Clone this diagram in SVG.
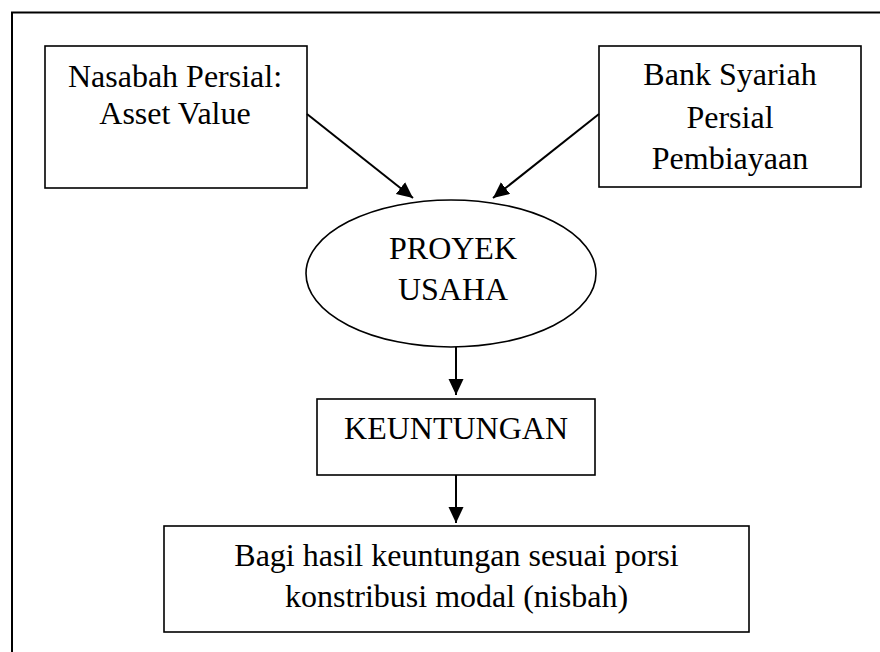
<svg xmlns="http://www.w3.org/2000/svg" width="880" height="652" viewBox="0 0 880 652">
<defs>
<style>
.box{fill:#fff;stroke:#000;stroke-width:1.6}
.t{font-family:"Liberation Serif","Times New Roman",serif;font-size:32px;fill:#000;text-anchor:middle}
.c{stroke:#000;stroke-width:2;fill:none}
</style>
<marker id="ah" markerUnits="userSpaceOnUse" markerWidth="18" markerHeight="16" refX="16" refY="7.5" orient="auto">
<path d="M0,0 L16,7.5 L0,15 Z" fill="#000"/>
</marker>
</defs>
<rect width="880" height="652" fill="#fff"/>
<path d="M12,660 L12,12.5 L890,12.5" fill="none" stroke="#000" stroke-width="2"/>
<g id="nasabah">
<rect class="box" x="45" y="46" width="262" height="142"/>
<text class="t" x="175" y="87">Nasabah Persial:</text>
<text class="t" x="175" y="124">Asset Value</text>
</g>
<g id="bank">
<rect class="box" x="599" y="46" width="262" height="141"/>
<text class="t" x="730" y="85">Bank Syariah</text>
<text class="t" x="730" y="128">Persial</text>
<text class="t" x="730" y="169">Pembiayaan</text>
</g>
<g id="proyek">
<ellipse class="box" cx="451" cy="273.5" rx="145" ry="73.5"/>
<text class="t" x="453" y="259">PROYEK</text>
<text class="t" x="453" y="300">USAHA</text>
</g>
<g id="keuntungan">
<rect class="box" x="317" y="399" width="278" height="76"/>
<text class="t" x="456" y="439">KEUNTUNGAN</text>
</g>
<g id="bagi">
<rect class="box" x="164" y="526" width="585" height="106"/>
<text class="t" x="456.5" y="566">Bagi hasil keuntungan sesuai porsi</text>
<text class="t" x="456.5" y="607">konstribusi modal (nisbah)</text>
</g>
<g id="connectors">
<line class="c" x1="307" y1="114" x2="413" y2="198" marker-end="url(#ah)"/>
<line class="c" x1="599" y1="114" x2="493" y2="198" marker-end="url(#ah)"/>
<line class="c" x1="456" y1="347" x2="456" y2="395" marker-end="url(#ah)"/>
<line class="c" x1="456" y1="475" x2="456" y2="523" marker-end="url(#ah)"/>
</g>
</svg>
